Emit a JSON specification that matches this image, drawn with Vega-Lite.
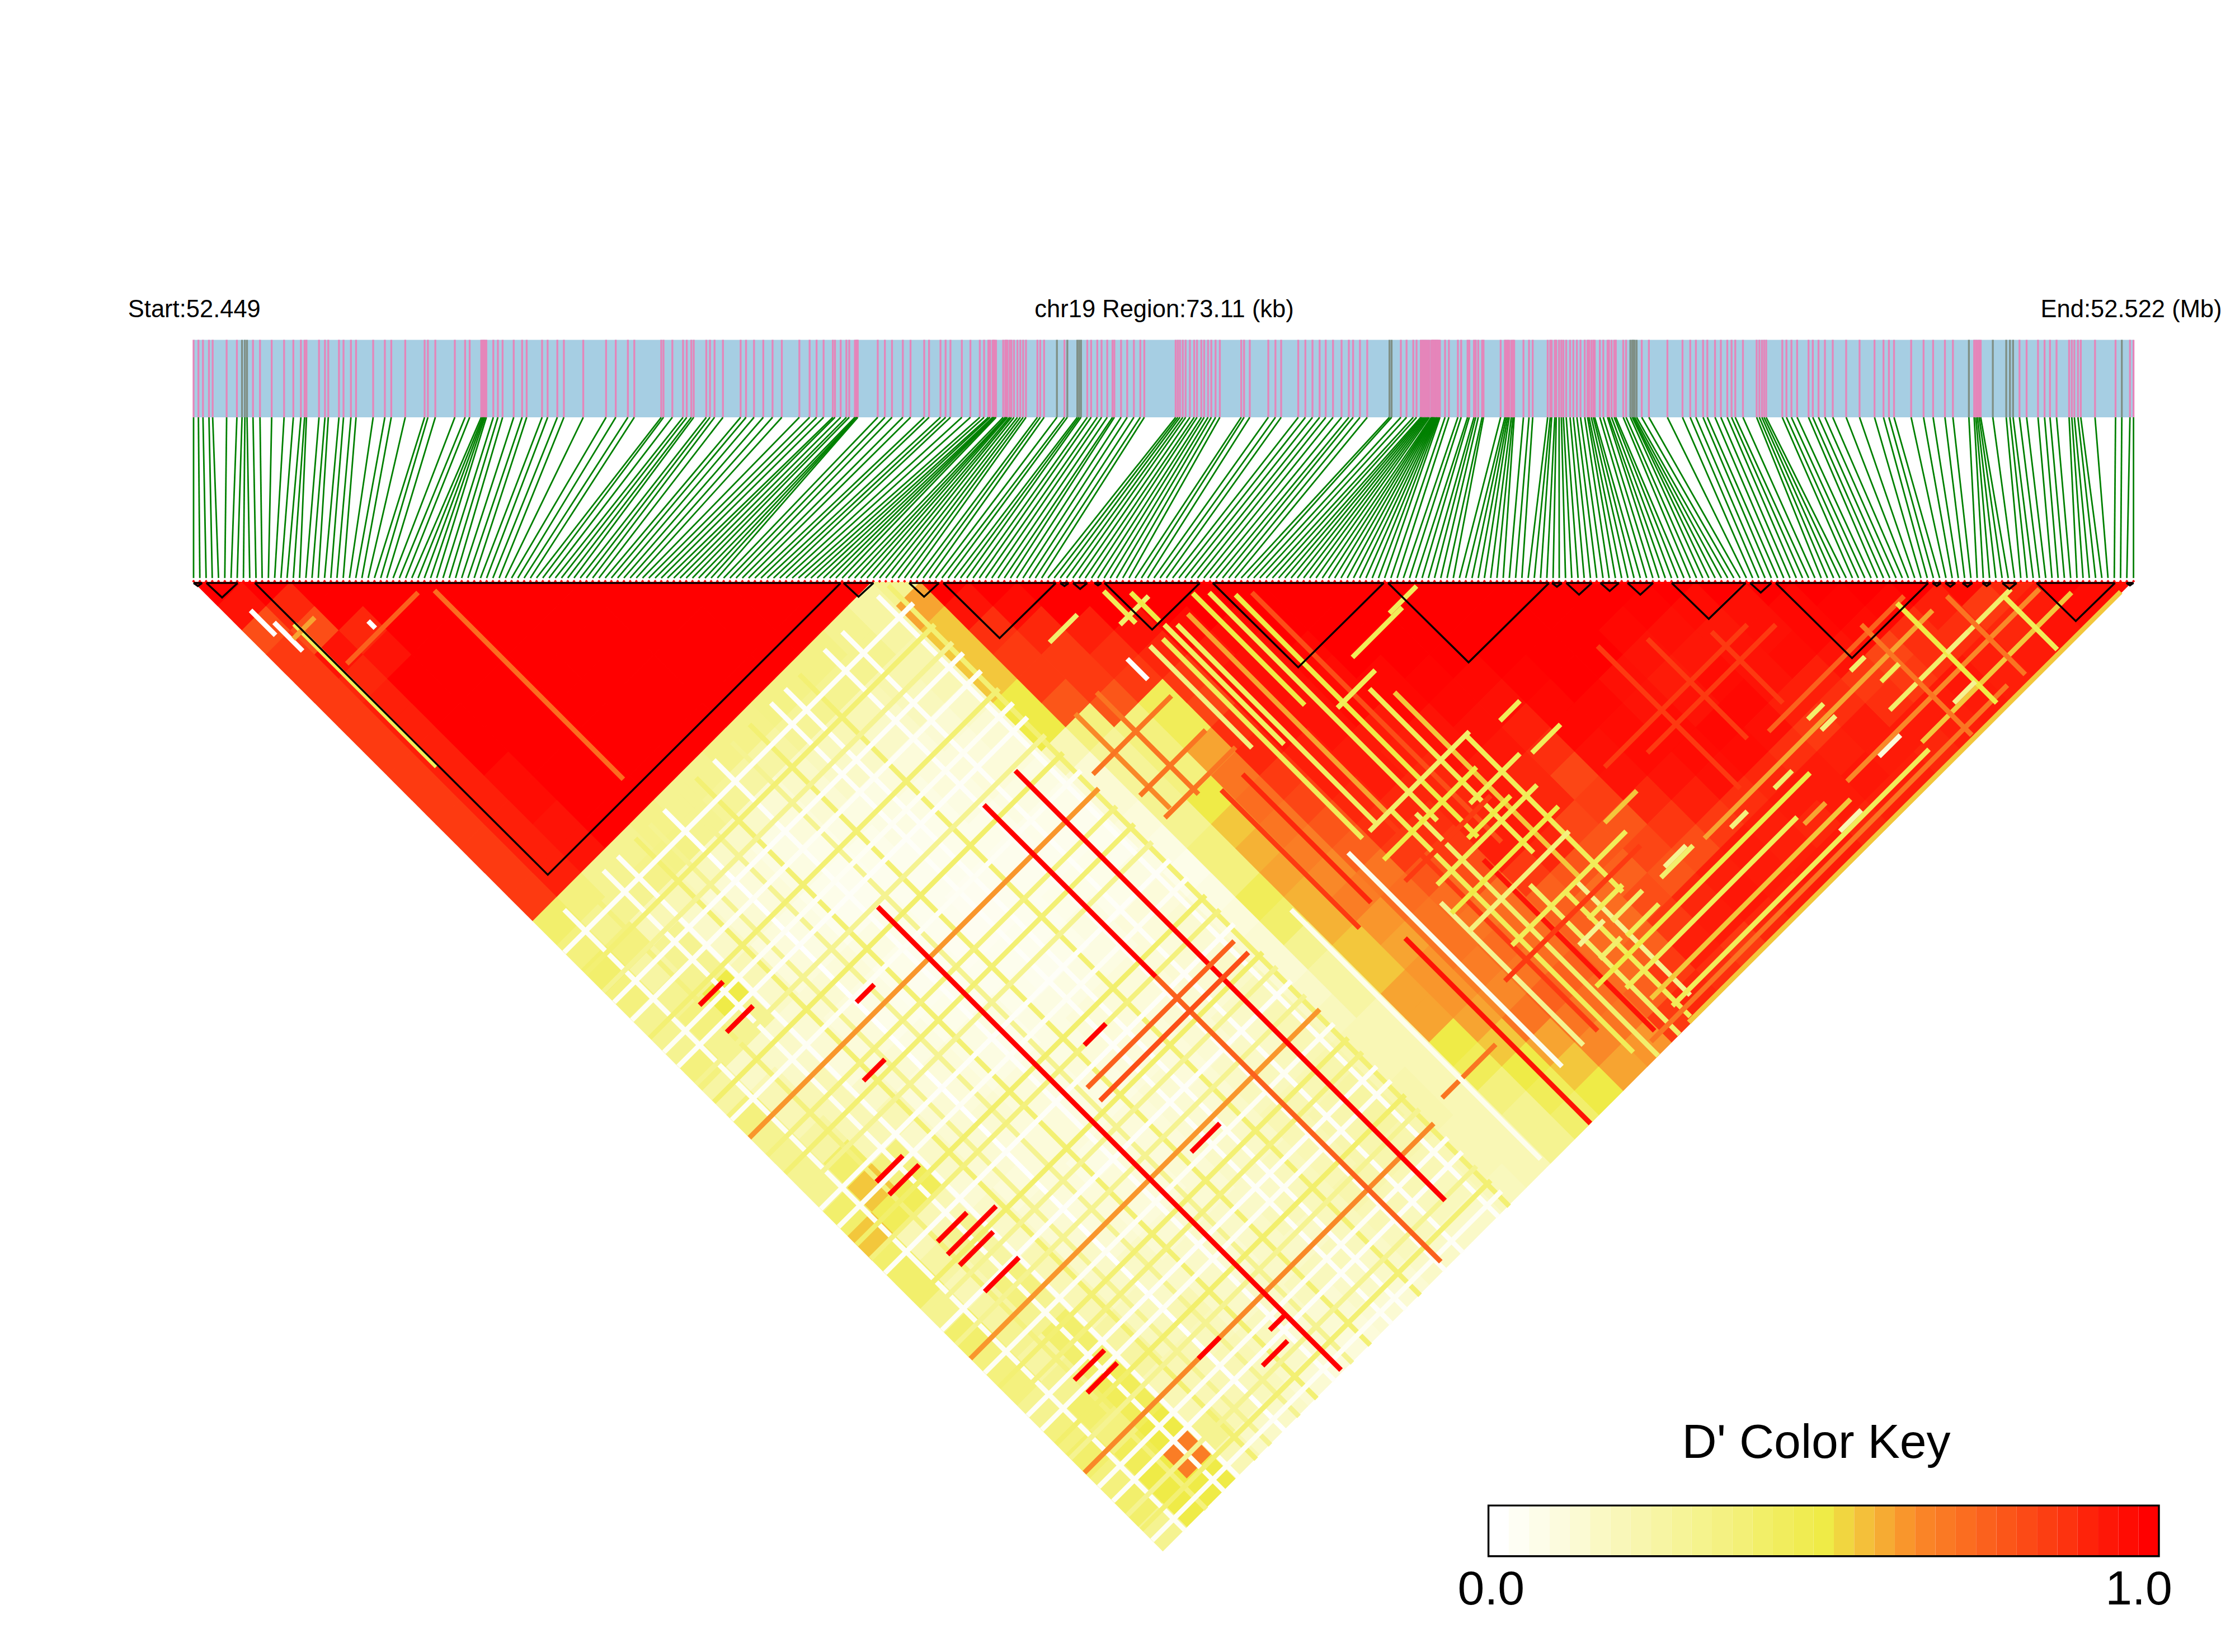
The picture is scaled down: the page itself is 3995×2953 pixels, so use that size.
{"$schema":"https://vega.github.io/schema/vega-lite/v6.json","width":3995,"height":2953,"padding":0,"autosize":{"type":"fit","contains":"padding"},"background":"white","config":{"view":{"stroke":null}},
"datasets":{"snp":[
{"t":0,"b":0},{"t":3.4,"b":4.4},{"t":6.6,"b":8.8},{"t":10.8,"b":13.1},{"t":13.4,"b":17.5},{"t":23.2,"b":21.9},{"t":30.4,"b":26.3},{"t":34,"b":30.6,"g":1},
{"t":36,"b":35,"g":1},{"t":37.5,"b":39.4,"g":1},{"t":41.7,"b":43.8},{"t":46.6,"b":48.1},{"t":54.8,"b":52.5},{"t":63.5,"b":56.9},{"t":70,"b":61.3},{"t":75.3,"b":65.6},
{"t":77.9,"b":70},{"t":79.2,"b":74.4},{"t":88,"b":78.8},{"t":92.2,"b":83.1},{"t":94.5,"b":87.5},{"t":102,"b":91.9},{"t":105.2,"b":96.3},{"t":110.4,"b":100.6},
{"t":114,"b":105},{"t":126,"b":109.4},{"t":134.2,"b":113.8},{"t":138.7,"b":118.1},{"t":148.5,"b":122.5},{"t":162.1,"b":126.9},{"t":164.4,"b":131.3},{"t":169.6,"b":135.6},
{"t":183.3,"b":140},{"t":190.5,"b":144.4},{"t":193.7,"b":148.8},{"t":201.8,"b":153.1},{"t":202.8,"b":157.5},{"t":203.6,"b":161.9},{"t":204.4,"b":166.3},{"t":205.4,"b":170.6},
{"t":210.3,"b":175},{"t":213.5,"b":179.4},{"t":216.8,"b":183.8},{"t":224.6,"b":188.1},{"t":230.5,"b":192.5},{"t":233.7,"b":196.9},{"t":244.5,"b":201.3},{"t":248.4,"b":205.6},
{"t":255.2,"b":210},{"t":259.8,"b":214.4},{"t":273.4,"b":218.8},{"t":289.4,"b":223.1},{"t":296.2,"b":227.5},{"t":304.7,"b":231.9},{"t":309.2,"b":236.3},{"t":328.1,"b":240.6},
{"t":329.7,"b":245},{"t":335.9,"b":249.4},{"t":343.4,"b":253.8},{"t":346,"b":258.1},{"t":349.2,"b":262.5},{"t":350.9,"b":266.9},{"t":359.7,"b":271.3},{"t":362.3,"b":275.6},
{"t":365.5,"b":280},{"t":371.4,"b":284.4},{"t":383.8,"b":288.8},{"t":387.6,"b":293.1},{"t":393.2,"b":297.5},{"t":399.7,"b":301.9},{"t":406.2,"b":306.3},{"t":412.7,"b":310.6},
{"t":425,"b":315},{"t":432.2,"b":319.4},{"t":437.1,"b":323.8},{"t":442,"b":328.1},{"t":448.5,"b":332.5},{"t":450,"b":336.9},{"t":454,"b":341.3},{"t":458,"b":345.6},
{"t":460,"b":350},{"t":464,"b":354.4},{"t":465,"b":358.8},{"t":465.5,"b":363.1},{"t":466,"b":367.5},{"t":480,"b":371.9},{"t":485,"b":376.3},{"t":490,"b":380.6},
{"t":497.6,"b":385},{"t":503,"b":389.4},{"t":512.6,"b":393.8},{"t":516,"b":398.1},{"t":524,"b":402.5},{"t":527.6,"b":406.9},{"t":531,"b":411.3},{"t":539,"b":415.6},
{"t":545,"b":420},{"t":551.6,"b":424.4},{"t":554.6,"b":428.8},{"t":557.6,"b":433.1},{"t":558.8,"b":437.5},{"t":560.6,"b":441.9},{"t":561.3,"b":446.3},{"t":562,"b":450.6},
{"t":563,"b":455},{"t":568,"b":459.4},{"t":569.5,"b":463.8},{"t":570.2,"b":468.1},{"t":571,"b":472.5},{"t":572.6,"b":476.9},{"t":573.8,"b":481.3},{"t":575.6,"b":485.6},
{"t":578,"b":490},{"t":580,"b":494.4},{"t":582,"b":498.8},{"t":584,"b":503.1},{"t":592,"b":507.5},{"t":594,"b":511.9},{"t":596.7,"b":516.3},{"t":605.7,"b":520.6,"g":1},
{"t":611,"b":525},{"t":613,"b":529.4,"g":1},{"t":620,"b":533.8,"g":1},{"t":621.3,"b":538.1,"g":1},{"t":622.6,"b":542.5,"g":1},{"t":627,"b":546.9},{"t":629.7,"b":551.3},{"t":634,"b":555.6},
{"t":637,"b":560},{"t":641,"b":564.4},{"t":644.7,"b":568.8},{"t":646,"b":573.1},{"t":650.7,"b":577.5},{"t":655,"b":581.9},{"t":659.7,"b":586.3},{"t":664.2,"b":590.6},
{"t":667,"b":595},{"t":689,"b":599.4},{"t":690.5,"b":603.8},{"t":692,"b":608.1},{"t":694,"b":612.5},{"t":696,"b":616.9},{"t":699,"b":621.3},{"t":702,"b":625.6},
{"t":704,"b":630},{"t":707,"b":634.4},{"t":709,"b":638.8},{"t":711.7,"b":643.1},{"t":714,"b":647.5},{"t":717,"b":651.9},{"t":720,"b":656.3},{"t":735,"b":660.6},
{"t":737,"b":665},{"t":741,"b":669.4},{"t":754,"b":673.8},{"t":759,"b":678.1},{"t":763,"b":682.5},{"t":775,"b":686.9},{"t":780,"b":691.3},{"t":785,"b":695.6},
{"t":790,"b":700},{"t":794.3,"b":704.4},{"t":799.4,"b":708.8},{"t":805.4,"b":713.1},{"t":810.5,"b":717.5},{"t":813.5,"b":721.9},{"t":818.3,"b":726.3},{"t":823.4,"b":730.6},
{"t":839,"b":735,"g":1},{"t":840.5,"b":739.4,"g":1},{"t":847,"b":743.8},{"t":851,"b":748.1},{"t":855.7,"b":752.5},{"t":858,"b":756.9},{"t":861,"b":761.3},{"t":862,"b":765.6},
{"t":863,"b":770},{"t":864,"b":774.4},{"t":865,"b":778.8},{"t":866,"b":783.1},{"t":867,"b":787.5},{"t":868.4,"b":791.9},{"t":869,"b":796.3},{"t":869.5,"b":800.6},
{"t":870,"b":805},{"t":870.6,"b":809.4},{"t":871.2,"b":813.8},{"t":871.8,"b":818.1},{"t":872.3,"b":822.5},{"t":872.9,"b":826.9},{"t":873.6,"b":831.3},{"t":874.4,"b":835.6},
{"t":878,"b":840},{"t":880.7,"b":844.4},{"t":887,"b":848.8},{"t":889.3,"b":853.1},{"t":893.8,"b":857.5},{"t":895,"b":861.9},{"t":898.3,"b":866.3},{"t":899.5,"b":870.6},
{"t":901.3,"b":875},{"t":904,"b":879.4},{"t":905,"b":883.8},{"t":917,"b":888.1},{"t":920,"b":892.5},{"t":921,"b":896.9},{"t":922,"b":901.3},{"t":923,"b":905.6},
{"t":924.5,"b":910},{"t":925.6,"b":914.4},{"t":926.5,"b":918.8},{"t":933,"b":923.1},{"t":936.9,"b":927.5},{"t":939.5,"b":931.9},{"t":950,"b":936.3},{"t":951.8,"b":940.6},
{"t":952.8,"b":945},{"t":955,"b":949.4},{"t":956,"b":953.8},{"t":958,"b":958.1},{"t":959.6,"b":962.5},{"t":961,"b":966.9},{"t":963,"b":971.3},{"t":965.7,"b":975.6},
{"t":968,"b":980},{"t":970.5,"b":984.4},{"t":973,"b":988.8},{"t":976,"b":993.1},{"t":978,"b":997.5},{"t":979,"b":1001.9},{"t":980.6,"b":1006.3},{"t":982,"b":1010.6},
{"t":983,"b":1015},{"t":986.6,"b":1019.4},{"t":989,"b":1023.8},{"t":992,"b":1028.1},{"t":993,"b":1032.5},{"t":994.8,"b":1036.9},{"t":996.7,"b":1041.3},{"t":997.8,"b":1045.6},
{"t":1003,"b":1050},{"t":1005,"b":1054.4},{"t":1008,"b":1058.8,"g":1},{"t":1009.4,"b":1063.1,"g":1},{"t":1010,"b":1067.5,"g":1},{"t":1011,"b":1071.9,"g":1},{"t":1012.4,"b":1076.3,"g":1},{"t":1016,"b":1080.6},
{"t":1021,"b":1085},{"t":1034,"b":1089.4},{"t":1044.6,"b":1093.8},{"t":1050,"b":1098.1},{"t":1054,"b":1102.5},{"t":1059,"b":1106.9},{"t":1062,"b":1111.3},{"t":1067.4,"b":1115.6},
{"t":1071.5,"b":1120},{"t":1076,"b":1124.4},{"t":1079,"b":1128.8},{"t":1081.6,"b":1133.1},{"t":1087,"b":1137.5},{"t":1096.6,"b":1141.9},{"t":1098.5,"b":1146.3},{"t":1100.3,"b":1150.6},
{"t":1101.8,"b":1155},{"t":1103.3,"b":1159.4},{"t":1114.6,"b":1163.8},{"t":1117.5,"b":1168.1},{"t":1121,"b":1172.5},{"t":1125,"b":1176.9},{"t":1133,"b":1181.3},{"t":1136,"b":1185.6},
{"t":1140,"b":1190},{"t":1144.5,"b":1194.4},{"t":1150,"b":1198.8},{"t":1159.4,"b":1203.1},{"t":1168.8,"b":1207.5},{"t":1179.3,"b":1211.9},{"t":1185.6,"b":1216.3},{"t":1189.4,"b":1220.6},
{"t":1193,"b":1225},{"t":1205,"b":1229.4},{"t":1213.7,"b":1233.8},{"t":1220.4,"b":1238.1},{"t":1228.7,"b":1242.5},{"t":1234.3,"b":1246.9},{"t":1245.5,"b":1251.3,"g":1},{"t":1249.2,"b":1255.6},
{"t":1250.4,"b":1260},{"t":1251.5,"b":1264.4},{"t":1252.7,"b":1268.8},{"t":1253.8,"b":1273.1},{"t":1262.3,"b":1277.5,"g":1},{"t":1271.7,"b":1281.9,"g":1},{"t":1274.3,"b":1286.3,"g":1},{"t":1276.5,"b":1290.6,"g":1},
{"t":1281,"b":1295},{"t":1286,"b":1299.4},{"t":1294,"b":1303.8},{"t":1298.6,"b":1308.1},{"t":1302.4,"b":1312.5},{"t":1307,"b":1316.9},{"t":1315.8,"b":1321.3},{"t":1317.7,"b":1325.6},
{"t":1319.5,"b":1330},{"t":1322,"b":1334.4},{"t":1324,"b":1338.8},{"t":1334,"b":1343.1},{"t":1348.4,"b":1347.5},{"t":1352.8,"b":1351.9,"g":1},{"t":1358.5,"b":1356.3},{"t":1361,"b":1361}
],
"blocks":[{"a":0,"b":6},{"a":9,"b":31},{"a":43,"b":454},{"a":456,"b":477},{"a":502,"b":523},{"a":526,"b":605},{"a":608,"b":614},{"a":617,"b":627},{"a":632,"b":637},{"a":639,"b":706},{"a":715,"b":835},{"a":838,"b":951},{"a":953,"b":960},{"a":963,"b":981},{"a":987,"b":1000},{"a":1006,"b":1024},{"a":1037,"b":1089},{"a":1092,"b":1107},{"a":1110,"b":1217},{"a":1220,"b":1226},{"a":1229,"b":1236},{"a":1241,"b":1248},{"a":1255,"b":1261},{"a":1269,"b":1279},{"a":1293,"b":1348},{"a":1356,"b":1361}]},
"layer":[
{"data":{"values":[
{"x":1,"y":0,"v":1},{"x":2,"y":1,"v":0.95},{"x":3,"y":2,"v":0.8},{"x":4,"y":3,"v":0.85},{"x":5,"y":4,"v":0.85},{"x":6,"y":5,"v":0.85},{"x":7,"y":6,"v":0.85},{"x":8,"y":7,"v":0.85},{"x":9,"y":8,"v":0.85},{"x":10,"y":9,"v":0.85},{"x":11,"y":10,"v":0.85},{"x":12,"y":11,"v":0.85},{"x":13,"y":12,"v":0.85},{"x":14,"y":13,"v":0.85},{"x":15,"y":14,"v":0.4},{"x":16,"y":15,"v":0.35},{"x":17,"y":16,"v":0.4},{"x":18,"y":17,"v":0.35},{"x":19,"y":18,"v":0.3},{"x":20,"y":19,"v":0.3},{"x":21,"y":20,"v":0.35},{"x":22,"y":21,"v":0.25},{"x":23,"y":22,"v":0.35},{"x":24,"y":23,"v":0.3},{"x":25,"y":24,"v":0.3},{"x":26,"y":25,"v":0.3},{"x":27,"y":26,"v":0.4},{"x":28,"y":27,"v":0.55},{"x":29,"y":28,"v":0.4},{"x":30,"y":29,"v":0.4},{"x":31,"y":30,"v":0.3},{"x":32,"y":31,"v":0.4},{"x":33,"y":32,"v":0.35},{"x":34,"y":33,"v":0.35},{"x":35,"y":34,"v":0.3},{"x":36,"y":35,"v":0.35},{"x":37,"y":36,"v":0.4},{"x":38,"y":37,"v":0.35},{"x":39,"y":38,"v":0.4},{"x":40,"y":39,"v":0.3},
{"x":3,"y":0,"v":1},{"x":4,"y":1,"v":0.9},{"x":5,"y":2,"v":0.8},{"x":6,"y":3,"v":0.95},{"x":7,"y":4,"v":0.9},{"x":8,"y":5,"v":0.92},{"x":9,"y":6,"v":0.92},{"x":10,"y":7,"v":0.92},{"x":11,"y":8,"v":0.92},{"x":12,"y":9,"v":0.92},{"x":13,"y":10,"v":0.92},{"x":14,"y":11,"v":0.92},{"x":15,"y":12,"v":0.92},{"x":16,"y":13,"v":0.35},{"x":17,"y":14,"v":0.3},{"x":18,"y":15,"v":0.35},{"x":19,"y":16,"v":0.25},{"x":20,"y":17,"v":0.3},{"x":21,"y":18,"v":0.35},{"x":22,"y":19,"v":0.3},{"x":23,"y":20,"v":0.15},{"x":24,"y":21,"v":0.2},{"x":25,"y":22,"v":0.2},{"x":26,"y":23,"v":0.25},{"x":27,"y":24,"v":0.4},{"x":28,"y":25,"v":0.55},{"x":29,"y":26,"v":0.45},{"x":30,"y":27,"v":0.2},{"x":31,"y":28,"v":0.25},{"x":32,"y":29,"v":0.2},{"x":33,"y":30,"v":0.25},{"x":34,"y":31,"v":0.3},{"x":35,"y":32,"v":0.25},{"x":36,"y":33,"v":0.3},{"x":37,"y":34,"v":0.4},{"x":38,"y":35,"v":0.35},{"x":39,"y":36,"v":0.45},{"x":40,"y":37,"v":0.5},{"x":41,"y":38,"v":0.5},
{"x":5,"y":0,"v":1},{"x":6,"y":1,"v":1},{"x":7,"y":2,"v":0.9},{"x":8,"y":3,"v":0.95},{"x":9,"y":4,"v":1},{"x":10,"y":5,"v":1},{"x":11,"y":6,"v":1},{"x":12,"y":7,"v":1},{"x":13,"y":8,"v":0.97},{"x":14,"y":9,"v":0.97},{"x":15,"y":10,"v":0.95},{"x":16,"y":11,"v":0.95},{"x":17,"y":12,"v":0.3},{"x":18,"y":13,"v":0.3},{"x":19,"y":14,"v":0.2},{"x":20,"y":15,"v":0.3},{"x":21,"y":16,"v":0.3},{"x":22,"y":17,"v":0.5},{"x":23,"y":18,"v":0.3},{"x":24,"y":19,"v":0.15},{"x":25,"y":20,"v":0.15},{"x":26,"y":21,"v":0.2},{"x":27,"y":22,"v":0.2},{"x":28,"y":23,"v":0.2},{"x":29,"y":24,"v":0.35},{"x":30,"y":25,"v":0.45},{"x":31,"y":26,"v":0.2},{"x":32,"y":27,"v":0.3},{"x":33,"y":28,"v":0.25},{"x":34,"y":29,"v":0.35},{"x":35,"y":30,"v":0.3},{"x":36,"y":31,"v":0.4},{"x":37,"y":32,"v":0.4},{"x":38,"y":33,"v":0.45},{"x":39,"y":34,"v":0.45},{"x":40,"y":35,"v":0.5},{"x":41,"y":36,"v":0.68},{"x":42,"y":37,"v":0.5},
{"x":7,"y":0,"v":1},{"x":8,"y":1,"v":1},{"x":9,"y":2,"v":1},{"x":10,"y":3,"v":1},{"x":11,"y":4,"v":1},{"x":12,"y":5,"v":1},{"x":13,"y":6,"v":1},{"x":14,"y":7,"v":1},{"x":15,"y":8,"v":1},{"x":16,"y":9,"v":1},{"x":17,"y":10,"v":1},{"x":18,"y":11,"v":0.3},{"x":19,"y":12,"v":0.32},{"x":20,"y":13,"v":0.2},{"x":21,"y":14,"v":0.15},{"x":22,"y":15,"v":0.15},{"x":23,"y":16,"v":0.2},{"x":24,"y":17,"v":0.15},{"x":25,"y":18,"v":0.12},{"x":26,"y":19,"v":0.12},{"x":27,"y":20,"v":0.1},{"x":28,"y":21,"v":0.15},{"x":29,"y":22,"v":0.2},{"x":30,"y":23,"v":0.15},{"x":31,"y":24,"v":0.15},{"x":32,"y":25,"v":0.12},{"x":33,"y":26,"v":0.15},{"x":34,"y":27,"v":0.15},{"x":35,"y":28,"v":0.2},{"x":36,"y":29,"v":0.2},{"x":37,"y":30,"v":0.2},{"x":38,"y":31,"v":0.25},{"x":39,"y":32,"v":0.25},{"x":40,"y":33,"v":0.2},{"x":41,"y":34,"v":0.2},{"x":42,"y":35,"v":0.3},{"x":43,"y":36,"v":0.2},
{"x":9,"y":0,"v":1},{"x":10,"y":1,"v":1},{"x":11,"y":2,"v":1},{"x":12,"y":3,"v":1},{"x":13,"y":4,"v":1},{"x":14,"y":5,"v":1},{"x":15,"y":6,"v":1},{"x":16,"y":7,"v":1},{"x":17,"y":8,"v":1},{"x":18,"y":9,"v":1},{"x":19,"y":10,"v":0.32},{"x":20,"y":11,"v":0.33},{"x":21,"y":12,"v":0.18},{"x":22,"y":13,"v":0.12},{"x":23,"y":14,"v":0.12},{"x":24,"y":15,"v":0.1},{"x":25,"y":16,"v":0.1},{"x":26,"y":17,"v":0.12},{"x":27,"y":18,"v":0.1},{"x":28,"y":19,"v":0.1},{"x":29,"y":20,"v":0.12},{"x":30,"y":21,"v":0.1},{"x":31,"y":22,"v":0.12},{"x":32,"y":23,"v":0.12},{"x":33,"y":24,"v":0.12},{"x":34,"y":25,"v":0.1},{"x":35,"y":26,"v":0.12},{"x":36,"y":27,"v":0.12},{"x":37,"y":28,"v":0.15},{"x":38,"y":29,"v":0.15},{"x":39,"y":30,"v":0.18},{"x":40,"y":31,"v":0.18},{"x":41,"y":32,"v":0.2},{"x":42,"y":33,"v":0.2},{"x":43,"y":34,"v":0.2},{"x":44,"y":35,"v":0.15},
{"x":11,"y":0,"v":1},{"x":12,"y":1,"v":1},{"x":13,"y":2,"v":1},{"x":14,"y":3,"v":1},{"x":15,"y":4,"v":1},{"x":16,"y":5,"v":1},{"x":17,"y":6,"v":1},{"x":18,"y":7,"v":1},{"x":19,"y":8,"v":1},{"x":20,"y":9,"v":0.3},{"x":21,"y":10,"v":0.3},{"x":22,"y":11,"v":0.15},{"x":23,"y":12,"v":0.1},{"x":24,"y":13,"v":0.1},{"x":25,"y":14,"v":0.08},{"x":26,"y":15,"v":0.08},{"x":27,"y":16,"v":0.1},{"x":28,"y":17,"v":0.08},{"x":29,"y":18,"v":0.06},{"x":30,"y":19,"v":0.08},{"x":31,"y":20,"v":0.1},{"x":32,"y":21,"v":0.1},{"x":33,"y":22,"v":0.12},{"x":34,"y":23,"v":0.1},{"x":35,"y":24,"v":0.1},{"x":36,"y":25,"v":0.1},{"x":37,"y":26,"v":0.1},{"x":38,"y":27,"v":0.12},{"x":39,"y":28,"v":0.15},{"x":40,"y":29,"v":0.15},{"x":41,"y":30,"v":0.2},{"x":42,"y":31,"v":0.18},{"x":43,"y":32,"v":0.2},{"x":44,"y":33,"v":0.18},{"x":45,"y":34,"v":0.15},
{"x":13,"y":0,"v":1},{"x":14,"y":1,"v":1},{"x":15,"y":2,"v":1},{"x":16,"y":3,"v":1},{"x":17,"y":4,"v":1},{"x":18,"y":5,"v":1},{"x":19,"y":6,"v":1},{"x":20,"y":7,"v":1},{"x":21,"y":8,"v":0.3},{"x":22,"y":9,"v":0.28},{"x":23,"y":10,"v":0.15},{"x":24,"y":11,"v":0.08},{"x":25,"y":12,"v":0.08},{"x":26,"y":13,"v":0.06},{"x":27,"y":14,"v":0.05},{"x":28,"y":15,"v":0.08},{"x":29,"y":16,"v":0.06},{"x":30,"y":17,"v":0.05},{"x":31,"y":18,"v":0.06},{"x":32,"y":19,"v":0.08},{"x":33,"y":20,"v":0.08},{"x":34,"y":21,"v":0.1},{"x":35,"y":22,"v":0.1},{"x":36,"y":23,"v":0.1},{"x":37,"y":24,"v":0.08},{"x":38,"y":25,"v":0.1},{"x":39,"y":26,"v":0.1},{"x":40,"y":27,"v":0.12},{"x":41,"y":28,"v":0.15},{"x":42,"y":29,"v":0.15},{"x":43,"y":30,"v":0.15},{"x":44,"y":31,"v":0.18},{"x":45,"y":32,"v":0.15},{"x":46,"y":33,"v":0.12},
{"x":15,"y":0,"v":1},{"x":16,"y":1,"v":1},{"x":17,"y":2,"v":1},{"x":18,"y":3,"v":1},{"x":19,"y":4,"v":1},{"x":20,"y":5,"v":1},{"x":21,"y":6,"v":1},{"x":22,"y":7,"v":0.32},{"x":23,"y":8,"v":0.25},{"x":24,"y":9,"v":0.12},{"x":25,"y":10,"v":0.1},{"x":26,"y":11,"v":0.06},{"x":27,"y":12,"v":0.05},{"x":28,"y":13,"v":0.05},{"x":29,"y":14,"v":0.06},{"x":30,"y":15,"v":0.05},{"x":31,"y":16,"v":0.05},{"x":32,"y":17,"v":0.05},{"x":33,"y":18,"v":0.08},{"x":34,"y":19,"v":0.06},{"x":35,"y":20,"v":0.08},{"x":36,"y":21,"v":0.08},{"x":37,"y":22,"v":0.08},{"x":38,"y":23,"v":0.1},{"x":39,"y":24,"v":0.1},{"x":40,"y":25,"v":0.1},{"x":41,"y":26,"v":0.12},{"x":42,"y":27,"v":0.15},{"x":43,"y":28,"v":0.12},{"x":44,"y":29,"v":0.15},{"x":45,"y":30,"v":0.15},{"x":46,"y":31,"v":0.12},{"x":47,"y":32,"v":0.1},
{"x":17,"y":0,"v":1},{"x":18,"y":1,"v":1},{"x":19,"y":2,"v":1},{"x":20,"y":3,"v":1},{"x":21,"y":4,"v":1},{"x":22,"y":5,"v":1},{"x":23,"y":6,"v":0.32},{"x":24,"y":7,"v":0.25},{"x":25,"y":8,"v":0.15},{"x":26,"y":9,"v":0.12},{"x":27,"y":10,"v":0.08},{"x":28,"y":11,"v":0.06},{"x":29,"y":12,"v":0.05},{"x":30,"y":13,"v":0.05},{"x":31,"y":14,"v":0.05},{"x":32,"y":15,"v":0.04},{"x":33,"y":16,"v":0.05},{"x":34,"y":17,"v":0.06},{"x":35,"y":18,"v":0.08},{"x":36,"y":19,"v":0.08},{"x":37,"y":20,"v":0.1},{"x":38,"y":21,"v":0.08},{"x":39,"y":22,"v":0.1},{"x":40,"y":23,"v":0.1},{"x":41,"y":24,"v":0.12},{"x":42,"y":25,"v":0.12},{"x":43,"y":26,"v":0.15},{"x":44,"y":27,"v":0.15},{"x":45,"y":28,"v":0.15},{"x":46,"y":29,"v":0.18},{"x":47,"y":30,"v":0.12},{"x":48,"y":31,"v":0.1},
{"x":19,"y":0,"v":1},{"x":20,"y":1,"v":1},{"x":21,"y":2,"v":1},{"x":22,"y":3,"v":1},{"x":23,"y":4,"v":1},{"x":24,"y":5,"v":0.33},{"x":25,"y":6,"v":0.28},{"x":26,"y":7,"v":0.18},{"x":27,"y":8,"v":0.15},{"x":28,"y":9,"v":0.08},{"x":29,"y":10,"v":0.08},{"x":30,"y":11,"v":0.05},{"x":31,"y":12,"v":0.05},{"x":32,"y":13,"v":0.04},{"x":33,"y":14,"v":0.04},{"x":34,"y":15,"v":0.05},{"x":35,"y":16,"v":0.05},{"x":36,"y":17,"v":0.08},{"x":37,"y":18,"v":0.1},{"x":38,"y":19,"v":0.1},{"x":39,"y":20,"v":0.1},{"x":40,"y":21,"v":0.12},{"x":41,"y":22,"v":0.12},{"x":42,"y":23,"v":0.15},{"x":43,"y":24,"v":0.15},{"x":44,"y":25,"v":0.15},{"x":45,"y":26,"v":0.18},{"x":46,"y":27,"v":0.15},{"x":47,"y":28,"v":0.18},{"x":48,"y":29,"v":0.15},{"x":49,"y":30,"v":0.12},
{"x":21,"y":0,"v":1},{"x":22,"y":1,"v":1},{"x":23,"y":2,"v":1},{"x":24,"y":3,"v":1},{"x":25,"y":4,"v":0.33},{"x":26,"y":5,"v":0.3},{"x":27,"y":6,"v":0.2},{"x":28,"y":7,"v":0.15},{"x":29,"y":8,"v":0.1},{"x":30,"y":9,"v":0.08},{"x":31,"y":10,"v":0.06},{"x":32,"y":11,"v":0.06},{"x":33,"y":12,"v":0.05},{"x":34,"y":13,"v":0.05},{"x":35,"y":14,"v":0.05},{"x":36,"y":15,"v":0.06},{"x":37,"y":16,"v":0.08},{"x":38,"y":17,"v":0.1},{"x":39,"y":18,"v":0.1},{"x":40,"y":19,"v":0.1},{"x":41,"y":20,"v":0.1},{"x":42,"y":21,"v":0.12},{"x":43,"y":22,"v":0.15},{"x":44,"y":23,"v":0.15},{"x":45,"y":24,"v":0.18},{"x":46,"y":25,"v":0.18},{"x":47,"y":26,"v":0.18},{"x":48,"y":27,"v":0.18},{"x":49,"y":28,"v":0.15},{"x":50,"y":29,"v":0.12},
{"x":23,"y":0,"v":1},{"x":24,"y":1,"v":1},{"x":25,"y":2,"v":1},{"x":26,"y":3,"v":0.33},{"x":27,"y":4,"v":0.3},{"x":28,"y":5,"v":0.2},{"x":29,"y":6,"v":0.15},{"x":30,"y":7,"v":0.1},{"x":31,"y":8,"v":0.1},{"x":32,"y":9,"v":0.08},{"x":33,"y":10,"v":0.06},{"x":34,"y":11,"v":0.05},{"x":35,"y":12,"v":0.05},{"x":36,"y":13,"v":0.06},{"x":37,"y":14,"v":0.08},{"x":38,"y":15,"v":0.08},{"x":39,"y":16,"v":0.1},{"x":40,"y":17,"v":0.1},{"x":41,"y":18,"v":0.12},{"x":42,"y":19,"v":0.12},{"x":43,"y":20,"v":0.15},{"x":44,"y":21,"v":0.18},{"x":45,"y":22,"v":0.2},{"x":46,"y":23,"v":0.2},{"x":47,"y":24,"v":0.2},{"x":48,"y":25,"v":0.22},{"x":49,"y":26,"v":0.2},{"x":50,"y":27,"v":0.18},{"x":51,"y":28,"v":0.15},
{"x":25,"y":0,"v":1},{"x":26,"y":1,"v":1},{"x":27,"y":2,"v":0.3},{"x":28,"y":3,"v":0.3},{"x":29,"y":4,"v":0.22},{"x":30,"y":5,"v":0.18},{"x":31,"y":6,"v":0.12},{"x":32,"y":7,"v":0.1},{"x":33,"y":8,"v":0.1},{"x":34,"y":9,"v":0.08},{"x":35,"y":10,"v":0.06},{"x":36,"y":11,"v":0.05},{"x":37,"y":12,"v":0.06},{"x":38,"y":13,"v":0.06},{"x":39,"y":14,"v":0.1},{"x":40,"y":15,"v":0.1},{"x":41,"y":16,"v":0.12},{"x":42,"y":17,"v":0.12},{"x":43,"y":18,"v":0.15},{"x":44,"y":19,"v":0.15},{"x":45,"y":20,"v":0.18},{"x":46,"y":21,"v":0.2},{"x":47,"y":22,"v":0.22},{"x":48,"y":23,"v":0.22},{"x":49,"y":24,"v":0.22},{"x":50,"y":25,"v":0.2},{"x":51,"y":26,"v":0.18},{"x":52,"y":27,"v":0.15},
{"x":27,"y":0,"v":1},{"x":28,"y":1,"v":0.25},{"x":29,"y":2,"v":0.25},{"x":30,"y":3,"v":0.22},{"x":31,"y":4,"v":0.2},{"x":32,"y":5,"v":0.15},{"x":33,"y":6,"v":0.12},{"x":34,"y":7,"v":0.1},{"x":35,"y":8,"v":0.08},{"x":36,"y":9,"v":0.06},{"x":37,"y":10,"v":0.05},{"x":38,"y":11,"v":0.05},{"x":39,"y":12,"v":0.08},{"x":40,"y":13,"v":0.1},{"x":41,"y":14,"v":0.12},{"x":42,"y":15,"v":0.12},{"x":43,"y":16,"v":0.15},{"x":44,"y":17,"v":0.18},{"x":45,"y":18,"v":0.2},{"x":46,"y":19,"v":0.2},{"x":47,"y":20,"v":0.22},{"x":48,"y":21,"v":0.25},{"x":49,"y":22,"v":0.25},{"x":50,"y":23,"v":0.22},{"x":51,"y":24,"v":0.2},{"x":52,"y":25,"v":0.18},{"x":53,"y":26,"v":0.15},
{"x":29,"y":0,"v":0.3},{"x":30,"y":1,"v":0.6},{"x":31,"y":2,"v":0.55},{"x":32,"y":3,"v":0.55},{"x":33,"y":4,"v":0.55},{"x":34,"y":5,"v":0.5},{"x":35,"y":6,"v":0.5},{"x":36,"y":7,"v":0.2},{"x":37,"y":8,"v":0.12},{"x":38,"y":9,"v":0.12},{"x":39,"y":10,"v":0.1},{"x":40,"y":11,"v":0.08},{"x":41,"y":12,"v":0.06},{"x":42,"y":13,"v":0.08},{"x":43,"y":14,"v":0.1},{"x":44,"y":15,"v":0.12},{"x":45,"y":16,"v":0.12},{"x":46,"y":17,"v":0.15},{"x":47,"y":18,"v":0.18},{"x":48,"y":19,"v":0.2},{"x":49,"y":20,"v":0.2},{"x":50,"y":21,"v":0.22},{"x":51,"y":22,"v":0.22},{"x":52,"y":23,"v":0.2},{"x":53,"y":24,"v":0.2},{"x":54,"y":25,"v":0.18},
{"x":31,"y":0,"v":1},{"x":32,"y":1,"v":0.95},{"x":33,"y":2,"v":0.88},{"x":34,"y":3,"v":0.85},{"x":35,"y":4,"v":0.85},{"x":36,"y":5,"v":0.78},{"x":37,"y":6,"v":0.35},{"x":38,"y":7,"v":0.28},{"x":39,"y":8,"v":0.28},{"x":40,"y":9,"v":0.3},{"x":41,"y":10,"v":0.3},{"x":42,"y":11,"v":0.35},{"x":43,"y":12,"v":0.35},{"x":44,"y":13,"v":0.45},{"x":45,"y":14,"v":0.4},{"x":46,"y":15,"v":0.3},{"x":47,"y":16,"v":0.25},{"x":48,"y":17,"v":0.25},{"x":49,"y":18,"v":0.2},{"x":50,"y":19,"v":0.2},{"x":51,"y":20,"v":0.2},{"x":52,"y":21,"v":0.2},{"x":53,"y":22,"v":0.2},{"x":54,"y":23,"v":0.2},{"x":55,"y":24,"v":0.2},
{"x":33,"y":0,"v":1},{"x":34,"y":1,"v":0.97},{"x":35,"y":2,"v":0.9},{"x":36,"y":3,"v":0.85},{"x":37,"y":4,"v":0.85},{"x":38,"y":5,"v":0.78},{"x":39,"y":6,"v":0.35},{"x":40,"y":7,"v":0.35},{"x":41,"y":8,"v":0.35},{"x":42,"y":9,"v":0.5},{"x":43,"y":10,"v":0.55},{"x":44,"y":11,"v":0.58},{"x":45,"y":12,"v":0.6},{"x":46,"y":13,"v":0.58},{"x":47,"y":14,"v":0.58},{"x":48,"y":15,"v":0.55},{"x":49,"y":16,"v":0.55},{"x":50,"y":17,"v":0.6},{"x":51,"y":18,"v":0.6},{"x":52,"y":19,"v":0.5},{"x":53,"y":20,"v":0.45},{"x":54,"y":21,"v":0.35},{"x":55,"y":22,"v":0.3},{"x":56,"y":23,"v":0.3},
{"x":35,"y":0,"v":1},{"x":36,"y":1,"v":1},{"x":37,"y":2,"v":0.92},{"x":38,"y":3,"v":0.88},{"x":39,"y":4,"v":0.85},{"x":40,"y":5,"v":0.45},{"x":41,"y":6,"v":0.45},{"x":42,"y":7,"v":0.6},{"x":43,"y":8,"v":0.7},{"x":44,"y":9,"v":0.72},{"x":45,"y":10,"v":0.7},{"x":46,"y":11,"v":0.68},{"x":47,"y":12,"v":0.65},{"x":48,"y":13,"v":0.68},{"x":49,"y":14,"v":0.62},{"x":50,"y":15,"v":0.6},{"x":51,"y":16,"v":0.62},{"x":52,"y":17,"v":0.62},{"x":53,"y":18,"v":0.6},{"x":54,"y":19,"v":0.55},{"x":55,"y":20,"v":0.5},{"x":56,"y":21,"v":0.45},{"x":57,"y":22,"v":0.4},
{"x":37,"y":0,"v":1},{"x":38,"y":1,"v":1},{"x":39,"y":2,"v":0.95},{"x":40,"y":3,"v":0.9},{"x":41,"y":4,"v":0.85},{"x":42,"y":5,"v":0.82},{"x":43,"y":6,"v":0.88},{"x":44,"y":7,"v":0.9},{"x":45,"y":8,"v":0.85},{"x":46,"y":9,"v":0.82},{"x":47,"y":10,"v":0.78},{"x":48,"y":11,"v":0.75},{"x":49,"y":12,"v":0.7},{"x":50,"y":13,"v":0.72},{"x":51,"y":14,"v":0.7},{"x":52,"y":15,"v":0.7},{"x":53,"y":16,"v":0.68},{"x":54,"y":17,"v":0.65},{"x":55,"y":18,"v":0.7},{"x":56,"y":19,"v":0.6},{"x":57,"y":20,"v":0.55},{"x":58,"y":21,"v":0.5},
{"x":39,"y":0,"v":1},{"x":40,"y":1,"v":1},{"x":41,"y":2,"v":0.97},{"x":42,"y":3,"v":0.93},{"x":43,"y":4,"v":0.95},{"x":44,"y":5,"v":0.95},{"x":45,"y":6,"v":0.95},{"x":46,"y":7,"v":0.92},{"x":47,"y":8,"v":0.92},{"x":48,"y":9,"v":0.9},{"x":49,"y":10,"v":0.88},{"x":50,"y":11,"v":0.85},{"x":51,"y":12,"v":0.78},{"x":52,"y":13,"v":0.72},{"x":53,"y":14,"v":0.7},{"x":54,"y":15,"v":0.72},{"x":55,"y":16,"v":0.7},{"x":56,"y":17,"v":0.75},{"x":57,"y":18,"v":0.7},{"x":58,"y":19,"v":0.65},{"x":59,"y":20,"v":0.6},
{"x":41,"y":0,"v":1},{"x":42,"y":1,"v":1},{"x":43,"y":2,"v":0.97},{"x":44,"y":3,"v":0.96},{"x":45,"y":4,"v":0.96},{"x":46,"y":5,"v":0.95},{"x":47,"y":6,"v":0.95},{"x":48,"y":7,"v":0.93},{"x":49,"y":8,"v":0.93},{"x":50,"y":9,"v":0.9},{"x":51,"y":10,"v":0.88},{"x":52,"y":11,"v":0.85},{"x":53,"y":12,"v":0.8},{"x":54,"y":13,"v":0.72},{"x":55,"y":14,"v":0.72},{"x":56,"y":15,"v":0.72},{"x":57,"y":16,"v":0.75},{"x":58,"y":17,"v":0.72},{"x":59,"y":18,"v":0.7},{"x":60,"y":19,"v":0.62},
{"x":43,"y":0,"v":1},{"x":44,"y":1,"v":1},{"x":45,"y":2,"v":1},{"x":46,"y":3,"v":0.98},{"x":47,"y":4,"v":0.97},{"x":48,"y":5,"v":0.97},{"x":49,"y":6,"v":0.93},{"x":50,"y":7,"v":0.92},{"x":51,"y":8,"v":0.9},{"x":52,"y":9,"v":0.9},{"x":53,"y":10,"v":0.9},{"x":54,"y":11,"v":0.92},{"x":55,"y":12,"v":0.85},{"x":56,"y":13,"v":0.75},{"x":57,"y":14,"v":0.75},{"x":58,"y":15,"v":0.72},{"x":59,"y":16,"v":0.72},{"x":60,"y":17,"v":0.75},{"x":61,"y":18,"v":0.85},
{"x":45,"y":0,"v":1},{"x":46,"y":1,"v":1},{"x":47,"y":2,"v":1},{"x":48,"y":3,"v":1},{"x":49,"y":4,"v":0.98},{"x":50,"y":5,"v":0.98},{"x":51,"y":6,"v":0.95},{"x":52,"y":7,"v":0.95},{"x":53,"y":8,"v":0.93},{"x":54,"y":9,"v":0.93},{"x":55,"y":10,"v":0.93},{"x":56,"y":11,"v":0.9},{"x":57,"y":12,"v":0.78},{"x":58,"y":13,"v":0.72},{"x":59,"y":14,"v":0.72},{"x":60,"y":15,"v":0.75},{"x":61,"y":16,"v":0.85},{"x":62,"y":17,"v":0.9},
{"x":47,"y":0,"v":1},{"x":48,"y":1,"v":1},{"x":49,"y":2,"v":1},{"x":50,"y":3,"v":1},{"x":51,"y":4,"v":0.99},{"x":52,"y":5,"v":0.98},{"x":53,"y":6,"v":0.96},{"x":54,"y":7,"v":0.94},{"x":55,"y":8,"v":0.9},{"x":56,"y":9,"v":0.9},{"x":57,"y":10,"v":0.82},{"x":58,"y":11,"v":0.78},{"x":59,"y":12,"v":0.75},{"x":60,"y":13,"v":0.8},{"x":61,"y":14,"v":0.85},{"x":62,"y":15,"v":0.92},{"x":63,"y":16,"v":0.88},
{"x":49,"y":0,"v":1},{"x":50,"y":1,"v":1},{"x":51,"y":2,"v":1},{"x":52,"y":3,"v":1},{"x":53,"y":4,"v":0.98},{"x":54,"y":5,"v":0.96},{"x":55,"y":6,"v":0.92},{"x":56,"y":7,"v":0.88},{"x":57,"y":8,"v":0.82},{"x":58,"y":9,"v":0.84},{"x":59,"y":10,"v":0.78},{"x":60,"y":11,"v":0.82},{"x":61,"y":12,"v":0.78},{"x":62,"y":13,"v":0.9},{"x":63,"y":14,"v":0.93},{"x":64,"y":15,"v":0.85},
{"x":51,"y":0,"v":1},{"x":52,"y":1,"v":1},{"x":53,"y":2,"v":1},{"x":54,"y":3,"v":1},{"x":55,"y":4,"v":0.99},{"x":56,"y":5,"v":0.98},{"x":57,"y":6,"v":0.98},{"x":58,"y":7,"v":0.96},{"x":59,"y":8,"v":0.95},{"x":60,"y":9,"v":0.9},{"x":61,"y":10,"v":0.86},{"x":62,"y":11,"v":0.8},{"x":63,"y":12,"v":0.92},{"x":64,"y":13,"v":0.94},{"x":65,"y":14,"v":0.9},
{"x":53,"y":0,"v":1},{"x":54,"y":1,"v":1},{"x":55,"y":2,"v":1},{"x":56,"y":3,"v":1},{"x":57,"y":4,"v":1},{"x":58,"y":5,"v":0.98},{"x":59,"y":6,"v":0.97},{"x":60,"y":7,"v":0.97},{"x":61,"y":8,"v":0.95},{"x":62,"y":9,"v":0.92},{"x":63,"y":10,"v":0.85},{"x":64,"y":11,"v":0.93},{"x":65,"y":12,"v":0.93},{"x":66,"y":13,"v":0.92},
{"x":55,"y":0,"v":1},{"x":56,"y":1,"v":1},{"x":57,"y":2,"v":1},{"x":58,"y":3,"v":1},{"x":59,"y":4,"v":0.96},{"x":60,"y":5,"v":0.95},{"x":61,"y":6,"v":0.97},{"x":62,"y":7,"v":0.97},{"x":63,"y":8,"v":0.96},{"x":64,"y":9,"v":0.88},{"x":65,"y":10,"v":0.92},{"x":66,"y":11,"v":0.92},{"x":67,"y":12,"v":0.93},
{"x":57,"y":0,"v":1},{"x":58,"y":1,"v":1},{"x":59,"y":2,"v":0.98},{"x":60,"y":3,"v":0.95},{"x":61,"y":4,"v":0.93},{"x":62,"y":5,"v":0.95},{"x":63,"y":6,"v":0.98},{"x":64,"y":7,"v":0.97},{"x":65,"y":8,"v":0.9},{"x":66,"y":9,"v":0.93},{"x":67,"y":10,"v":0.9},{"x":68,"y":11,"v":0.93},
{"x":59,"y":0,"v":1},{"x":60,"y":1,"v":0.99},{"x":61,"y":2,"v":0.96},{"x":62,"y":3,"v":0.94},{"x":63,"y":4,"v":0.97},{"x":64,"y":5,"v":0.98},{"x":65,"y":6,"v":0.96},{"x":66,"y":7,"v":0.88},{"x":67,"y":8,"v":0.93},{"x":68,"y":9,"v":0.93},{"x":69,"y":10,"v":0.9},
{"x":61,"y":0,"v":1},{"x":62,"y":1,"v":0.97},{"x":63,"y":2,"v":0.94},{"x":64,"y":3,"v":0.95},{"x":65,"y":4,"v":0.95},{"x":66,"y":5,"v":0.92},{"x":67,"y":6,"v":0.85},{"x":68,"y":7,"v":0.92},{"x":69,"y":8,"v":0.94},{"x":70,"y":9,"v":0.92},
{"x":63,"y":0,"v":1},{"x":64,"y":1,"v":0.96},{"x":65,"y":2,"v":0.96},{"x":66,"y":3,"v":0.97},{"x":67,"y":4,"v":0.92},{"x":68,"y":5,"v":0.88},{"x":69,"y":6,"v":0.93},{"x":70,"y":7,"v":0.93},{"x":71,"y":8,"v":0.92},
{"x":65,"y":0,"v":1},{"x":66,"y":1,"v":0.98},{"x":67,"y":2,"v":0.98},{"x":68,"y":3,"v":0.95},{"x":69,"y":4,"v":0.85},{"x":70,"y":5,"v":0.88},{"x":71,"y":6,"v":0.93},{"x":72,"y":7,"v":0.9},
{"x":67,"y":0,"v":1},{"x":68,"y":1,"v":0.99},{"x":69,"y":2,"v":0.97},{"x":70,"y":3,"v":0.82},{"x":71,"y":4,"v":0.85},{"x":72,"y":5,"v":0.93},{"x":73,"y":6,"v":0.92},
{"x":69,"y":0,"v":1},{"x":70,"y":1,"v":0.98},{"x":71,"y":2,"v":0.88},{"x":72,"y":3,"v":0.88},{"x":73,"y":4,"v":0.94},{"x":74,"y":5,"v":0.93},
{"x":71,"y":0,"v":1},{"x":72,"y":1,"v":0.92},{"x":73,"y":2,"v":0.88},{"x":74,"y":3,"v":0.92},{"x":75,"y":4,"v":0.92},
{"x":73,"y":0,"v":0.97},{"x":74,"y":1,"v":0.85},{"x":75,"y":2,"v":0.9},{"x":76,"y":3,"v":0.93},
{"x":75,"y":0,"v":0.9},{"x":76,"y":1,"v":0.93},{"x":77,"y":2,"v":0.95},
{"x":77,"y":0,"v":1},{"x":78,"y":1,"v":0.97},
{"x":79,"y":0,"v":0.97}
]},"mark":{"type":"point","shape":"diamond","filled":true,"size":7700,"strokeWidth":0,"opacity":1},
"encoding":{"x":{"field":"x","type":"quantitative","axis":null,"scale":{"domain":[-7.988,84.247],"nice":false,"zero":false}},"y":{"field":"y","type":"quantitative","axis":null,"scale":{"domain":[-24.012,44.165],"nice":false,"zero":false,"reverse":true}},"color":{"field":"v","type":"quantitative","legend":null,"scale":{"domain":[0,0.5,0.625,1],"range":["#FFFFFF","#EFEB47","#F9922B","#FF0000"],"interpolate":"rgb"}}}},
{"data":{"values":[
{"x":260,"y":230,"x2":695.5,"y2":665.5,"v":0.03},{"x":275,"y":215,"x2":710.5,"y2":650.5,"v":0.35},{"x":287.5,"y":202.5,"x2":723,"y2":638,"v":0.03},{"x":297.5,"y":192.5,"x2":733,"y2":628,"v":0.02},{"x":310,"y":180,"x2":745.5,"y2":615.5,"v":0.38},{"x":320,"y":170,"x2":755.5,"y2":605.5,"v":0.3},{"x":330,"y":160,"x2":765.5,"y2":595.5,"v":0},{"x":340,"y":150,"x2":775.5,"y2":585.5,"v":0.3},{"x":352.5,"y":137.5,"x2":788,"y2":573,"v":0.38},{"x":365,"y":125,"x2":800.5,"y2":560.5,"v":0.02},{"x":377.5,"y":112.5,"x2":813,"y2":548,"v":0.3},{"x":390,"y":100,"x2":825.5,"y2":535.5,"v":0.38},{"x":405,"y":85,"x2":840.5,"y2":520.5,"v":0.02},{"x":415,"y":75,"x2":850.5,"y2":510.5,"v":0.02},{"x":425,"y":65,"x2":860.5,"y2":500.5,"v":0.38},{"x":442.5,"y":47.5,"x2":878,"y2":483,"v":0.02},{"x":455,"y":35,"x2":890.5,"y2":470.5,"v":0.02},{"x":480,"y":10,"x2":915.5,"y2":445.5,"v":0.02},{"x":487.5,"y":2.5,"x2":923,"y2":438,"v":0.38},
{"x":260,"y":260,"x2":505,"y2":15,"v":0.02},{"x":275,"y":275,"x2":520,"y2":30,"v":0.38},{"x":287.5,"y":287.5,"x2":532.5,"y2":42.5,"v":0.3},{"x":295,"y":295,"x2":540,"y2":50,"v":0.02},{"x":307.5,"y":307.5,"x2":552.5,"y2":62.5,"v":0.03},{"x":320,"y":320,"x2":565,"y2":75,"v":0.38},{"x":330,"y":330,"x2":575,"y2":85,"v":0.03},{"x":340,"y":340,"x2":585,"y2":95,"v":0.02},{"x":352.5,"y":352.5,"x2":597.5,"y2":107.5,"v":0.3},{"x":365,"y":365,"x2":610,"y2":120,"v":0.4},{"x":377.5,"y":377.5,"x2":622.5,"y2":132.5,"v":0.03},{"x":390,"y":390,"x2":635,"y2":145,"v":0.62},{"x":402.5,"y":402.5,"x2":647.5,"y2":157.5,"v":0.35},{"x":415,"y":415,"x2":660,"y2":170,"v":0.38},{"x":427.5,"y":427.5,"x2":672.5,"y2":182.5,"v":0.3},{"x":440,"y":440,"x2":685,"y2":195,"v":0.02},{"x":452.5,"y":452.5,"x2":697.5,"y2":207.5,"v":0.03},{"x":465,"y":465,"x2":710,"y2":220,"v":0.4},{"x":475,"y":475,"x2":720,"y2":230,"v":0.35},{"x":485,"y":485,"x2":730,"y2":240,"v":0.02},{"x":505,"y":505,"x2":750,"y2":260,"v":0.4},{"x":515,"y":515,"x2":760,"y2":270,"v":0.3},{"x":525,"y":525,"x2":770,"y2":280,"v":0.02},{"x":535,"y":535,"x2":780,"y2":290,"v":0.3},{"x":545,"y":545,"x2":790,"y2":300,"v":0.62},{"x":555,"y":555,"x2":800,"y2":310,"v":0.03},{"x":565,"y":565,"x2":810,"y2":320,"v":0.38},{"x":575,"y":575,"x2":820,"y2":330,"v":0.35},{"x":585,"y":585,"x2":830,"y2":340,"v":0.02},{"x":595,"y":595,"x2":840,"y2":350,"v":0.03},{"x":605,"y":605,"x2":850,"y2":360,"v":0.4},{"x":615,"y":615,"x2":860,"y2":370,"v":0.3},{"x":625,"y":625,"x2":870,"y2":380,"v":0.65},{"x":635,"y":635,"x2":880,"y2":390,"v":0.03},{"x":645,"y":645,"x2":890,"y2":400,"v":0.02},{"x":655,"y":655,"x2":900,"y2":410,"v":0.3},{"x":665,"y":665,"x2":910,"y2":420,"v":0.38},{"x":672.5,"y":672.5,"x2":917.5,"y2":427.5,"v":0.03},
{"x":480,"y":228,"x2":805,"y2":553,"v":1},{"x":554.5,"y":156.5,"x2":675,"y2":277,"v":1},{"x":675,"y":277,"x2":875,"y2":477,"v":0.75},{"x":576.5,"y":132.5,"x2":878,"y2":434,"v":1},{"x":633.5,"y":77.5,"x2":705,"y2":149,"v":0.7},{"x":618.5,"y":92.5,"x2":685,"y2":159,"v":0.65},{"x":721,"y":146,"x2":818,"y2":243,"v":0.85},{"x":736,"y":135,"x2":826,"y2":225,"v":0.9},
{"x":627,"y":355,"x2":730,"y2":252,"v":0.75},{"x":636,"y":364,"x2":740,"y2":260,"v":0.8},{"x":631,"y":135,"x2":686,"y2":80,"v":0.7},{"x":664,"y":150,"x2":710,"y2":104,"v":0.7},{"x":681.5,"y":165.5,"x2":731,"y2":116,"v":0.7},{"x":876,"y":362,"x2":913.5,"y2":324.5,"v":0.7},
{"x":355,"y":297,"x2":371.5,"y2":280.5,"v":1},{"x":374,"y":316,"x2":392.5,"y2":297.5,"v":1},{"x":479,"y":421,"x2":497.5,"y2":402.5,"v":1},{"x":488,"y":430,"x2":509,"y2":409,"v":1},{"x":522,"y":463,"x2":542.5,"y2":442.5,"v":1},{"x":529,"y":472,"x2":563,"y2":438,"v":1},{"x":537.5,"y":479.5,"x2":561,"y2":456,"v":1},{"x":555,"y":498,"x2":579,"y2":474,"v":1},{"x":618,"y":560,"x2":639,"y2":539,"v":1},{"x":627,"y":569,"x2":648,"y2":548,"v":1},{"x":755,"y":525,"x2":765,"y2":515,"v":1},{"x":750,"y":550,"x2":767.5,"y2":532.5,"v":1},{"x":705,"y":545,"x2":720,"y2":530,"v":1},{"x":700,"y":400,"x2":720,"y2":380,"v":1},{"x":625,"y":325,"x2":640,"y2":310,"v":1},{"x":465,"y":295,"x2":477.5,"y2":282.5,"v":1},{"x":470,"y":350,"x2":485,"y2":335,"v":1},
{"x":680,"y":40,"x2":820,"y2":180,"v":0.45},{"x":690,"y":30,"x2":830,"y2":170,"v":0.42},{"x":697.5,"y":22.5,"x2":837.5,"y2":162.5,"v":0.6},{"x":712.5,"y":7.5,"x2":872.5,"y2":167.5,"v":0.45},{"x":731,"y":9,"x2":901,"y2":179,"v":0.5},{"x":742.5,"y":7.5,"x2":917.5,"y2":182.5,"v":0.8},{"x":825,"y":75,"x2":940,"y2":190,"v":0.45},{"x":842.5,"y":77.5,"x2":972.5,"y2":207.5,"v":0.55},{"x":892.5,"y":107.5,"x2":1002.5,"y2":217.5,"v":0.45},{"x":840,"y":160,"x2":1010,"y2":330,"v":0.45},{"x":857.5,"y":162.5,"x2":1027.5,"y2":332.5,"v":0.4},{"x":835,"y":165,"x2":985,"y2":315,"v":0.85},{"x":875,"y":225,"x2":975,"y2":325,"v":0.3},{"x":905,"y":195,"x2":1025,"y2":315,"v":0.95},{"x":937.5,"y":212.5,"x2":1042.5,"y2":317.5,"v":0.4},{"x":962.5,"y":217.5,"x2":1050,"y2":305,"v":0.45},{"x":970,"y":210,"x2":1050,"y2":290,"v":0.3},{"x":850,"y":250,"x2":980,"y2":380,"v":0.95},{"x":810,"y":190,"x2":960,"y2":340,"v":0.05},{"x":770,"y":230,"x2":945,"y2":405,"v":0.05},
{"x":825,"y":175,"x2":895,"y2":105,"v":0.4},{"x":835,"y":195,"x2":900,"y2":130,"v":0.5},{"x":850,"y":210,"x2":910,"y2":150,"v":0.85},{"x":872.5,"y":212.5,"x2":942.5,"y2":142.5,"v":0.45},{"x":882.5,"y":232.5,"x2":957.5,"y2":157.5,"v":0.5},{"x":895,"y":245,"x2":965,"y2":175,"v":0.35},{"x":925,"y":255,"x2":1005,"y2":175,"v":0.45},{"x":920,"y":280,"x2":1015,"y2":185,"v":0.85},{"x":984,"y":284,"x2":1134,"y2":134,"v":0.5},{"x":1005,"y":285,"x2":1125,"y2":165,"v":0.45},{"x":1022.5,"y":292.5,"x2":1162.5,"y2":152.5,"v":0.55},{"x":1037.5,"y":297.5,"x2":1217.5,"y2":117.5,"v":0.45},{"x":1022.5,"y":322.5,"x2":1272.5,"y2":72.5,"v":0.7},{"x":1060,"y":180,"x2":1220,"y2":20,"v":0.6},{"x":1105,"y":105,"x2":1200,"y2":10,"v":0.75},{"x":1190,"y":90,"x2":1275,"y2":5,"v":0.4},{"x":1160,"y":140,"x2":1295,"y2":5,"v":0.65},{"x":1212.5,"y":112.5,"x2":1317.5,"y2":7.5,"v":0.55},
{"x":990,"y":130,"x2":1090,"y2":30,"v":0.85},{"x":1020,"y":120,"x2":1110,"y2":30,"v":0.85},{"x":985,"y":45,"x2":1085,"y2":145,"v":0.85},{"x":1020,"y":40,"x2":1090,"y2":110,"v":0.85},{"x":1065,"y":35,"x2":1115,"y2":85,"v":0.85},{"x":1170,"y":30,"x2":1247.5,"y2":107.5,"v":0.7},{"x":1195,"y":15,"x2":1265,"y2":85,"v":0.5},{"x":1230,"y":10,"x2":1285,"y2":65,"v":0.7},{"x":1270,"y":10,"x2":1307.5,"y2":47.5,"v":0.45},
{"x":802.5,"y":88.5,"x2":829,"y2":62,"v":0.45},{"x":813,"y":53,"x2":848,"y2":18,"v":0.45},{"x":839,"y":22,"x2":858,"y2":3,"v":0.45},{"x":916.5,"y":97.5,"x2":930.5,"y2":83.5,"v":0.45},{"x":939,"y":120,"x2":959,"y2":100,"v":0.45},{"x":895.5,"y":155.5,"x2":930.5,"y2":120.5,"v":0.45},{"x":894,"y":180,"x2":924,"y2":150,"v":0.5},{"x":990,"y":169,"x2":1012.5,"y2":146.5,"v":0.55},{"x":1032,"y":200,"x2":1047,"y2":185,"v":0.3},{"x":1029.5,"y":207.5,"x2":1052,"y2":185,"v":0.4},{"x":978.5,"y":236.5,"x2":1002.5,"y2":212.5,"v":0.45},{"x":995,"y":238,"x2":1016.5,"y2":216.5,"v":0.4},{"x":1005.5,"y":248.5,"x2":1028,"y2":226,"v":0.45},{"x":972,"y":255,"x2":989.5,"y2":237.5,"v":0.3},{"x":986.5,"y":264.5,"x2":1001.5,"y2":249.5,"v":0.4},{"x":1078.5,"y":172.5,"x2":1090,"y2":161,"v":0.35},{"x":1142,"y":104,"x2":1152,"y2":94,"v":0.35},{"x":1132.5,"y":96.5,"x2":1143.5,"y2":85.5,"v":0.4},{"x":1109,"y":145,"x2":1121.5,"y2":132.5,"v":0.4},{"x":1184,"y":70,"x2":1196.5,"y2":57.5,"v":0.45},{"x":1049,"y":309,"x2":1352,"y2":7,"v":0.55},{"x":1162.5,"y":62.5,"x2":1172.5,"y2":52.5,"v":0.4},{"x":1230,"y":50,"x2":1245,"y2":35,"v":0.35},{"x":1235,"y":85,"x2":1250,"y2":70,"v":0.3},{"x":1182.5,"y":122.5,"x2":1197.5,"y2":107.5,"v":0.1},{"x":1155,"y":175,"x2":1170,"y2":160,"v":0.2},{"x":1130,"y":170,"x2":1145,"y2":155,"v":0.6},
{"x":681,"y":30,"x2":765,"y2":114,"v":0.42},{"x":701,"y":8,"x2":779.5,"y2":86.5,"v":0.5},{"x":671,"y":45,"x2":742.5,"y2":116.5,"v":0.35},{"x":655,"y":54,"x2":669.5,"y2":68.5,"v":0},{"x":600.5,"y":42.5,"x2":620,"y2":23,"v":0.4},{"x":650,"y":30,"x2":670,"y2":10,"v":0.4},{"x":638.5,"y":6.5,"x2":661,"y2":29,"v":0.45},{"x":657.5,"y":7.5,"x2":677.5,"y2":27.5,"v":0.5},
{"x":169,"y":6,"x2":301.5,"y2":138.5,"v":0.72},{"x":107.5,"y":57.5,"x2":157.5,"y2":7.5,"v":0.75},{"x":70.5,"y":29.5,"x2":170.5,"y2":129.5,"v":0.45},{"x":40,"y":20,"x2":57.5,"y2":37.5,"v":0},{"x":56.5,"y":28.5,"x2":76.5,"y2":48.5,"v":0},{"x":122.5,"y":27.5,"x2":127.5,"y2":32.5,"v":0},{"x":70,"y":40,"x2":85,"y2":25,"v":0.6}
]},"mark":{"type":"rule","strokeWidth":9,"strokeCap":"butt"},
"encoding":{"x":{"field":"x","type":"quantitative","axis":null,"scale":{"domain":[-135.8,1432.2],"nice":false,"zero":false}},"y":{"field":"y","type":"quantitative","axis":null,"scale":{"domain":[-408.2,750.8],"nice":false,"zero":false,"reverse":true}},"x2":{"field":"x2"},"y2":{"field":"y2"},"color":{"field":"v","type":"quantitative","legend":null,"scale":{"domain":[0,0.5,0.625,1],"range":["#FFFFFF","#EFEB47","#F9922B","#FF0000"],"interpolate":"rgb"}}}},
{"data":{"values":[{"x0":-135.8,"x1":1432.2,"y0":-408.2,"y1":0}]},"mark":{"type":"rect","fill":"white"},"encoding":{"x":{"field":"x0","type":"quantitative","axis":null,"scale":{"domain":[-135.8,1432.2],"nice":false,"zero":false}},"x2":{"field":"x1"},"y":{"field":"y0","type":"quantitative","axis":null,"scale":{"domain":[-408.2,750.8],"nice":false,"zero":false,"reverse":true}},"y2":{"field":"y1"}}},
{"data":{"values":[{"x0":0,"x1":1361,"y0":-169.8,"y1":-115.4}]},"mark":{"type":"rect","fill":"#A6CEE3"},"encoding":{"x":{"field":"x0","type":"quantitative","axis":null,"scale":{"domain":[-135.8,1432.2],"nice":false,"zero":false}},"x2":{"field":"x1"},"y":{"field":"y0","type":"quantitative","axis":null,"scale":{"domain":[-408.2,750.8],"nice":false,"zero":false,"reverse":true}},"y2":{"field":"y1"}}},
{"data":{"name":"snp"},"mark":{"type":"rule","strokeWidth":3.3},"encoding":{"x":{"field":"t","type":"quantitative","axis":null,"scale":{"domain":[-135.8,1432.2],"nice":false,"zero":false}},"y":{"datum":-169.8,"type":"quantitative","axis":null,"scale":{"domain":[-408.2,750.8],"nice":false,"zero":false,"reverse":true}},"y2":{"datum":-115.4},"color":{"condition":{"test":"datum.g","value":"#7F8F85"},"value":"#E585BA"}}},
{"data":{"name":"snp"},"mark":{"type":"rule","strokeWidth":2.8,"color":"#008000"},"encoding":{"x":{"field":"t","type":"quantitative","axis":null,"scale":{"domain":[-135.8,1432.2],"nice":false,"zero":false}},"x2":{"field":"b"},"y":{"datum":-115.4,"type":"quantitative","axis":null,"scale":{"domain":[-408.2,750.8],"nice":false,"zero":false,"reverse":true}},"y2":{"datum":-2.7}}},
{"data":{"name":"snp"},"mark":{"type":"point","shape":"diamond","filled":true,"size":30,"strokeWidth":0,"opacity":1,"color":"#FF0000"},"encoding":{"x":{"field":"b","type":"quantitative","axis":null,"scale":{"domain":[-135.8,1432.2],"nice":false,"zero":false}},"y":{"datum":-0.4,"type":"quantitative","axis":null,"scale":{"domain":[-408.2,750.8],"nice":false,"zero":false,"reverse":true}}}},
{"data":{"values":[
{"k":1,"o":0,"x":0,"y":0.8},{"k":1,"o":1,"x":3,"y":3},{"k":1,"o":2,"x":6,"y":0.8},
{"k":2,"o":0,"x":9,"y":0.8},{"k":2,"o":1,"x":20,"y":11},{"k":2,"o":2,"x":31,"y":0.8},
{"k":3,"o":0,"x":43,"y":0.8},{"k":3,"o":1,"x":248.5,"y":205.5},{"k":3,"o":2,"x":454,"y":0.8},
{"k":4,"o":0,"x":456,"y":0.8},{"k":4,"o":1,"x":466.5,"y":10.5},{"k":4,"o":2,"x":477,"y":0.8},
{"k":5,"o":0,"x":502,"y":0.8},{"k":5,"o":1,"x":512.5,"y":10.5},{"k":5,"o":2,"x":523,"y":0.8},
{"k":6,"o":0,"x":526,"y":0.8},{"k":6,"o":1,"x":565.5,"y":39.5},{"k":6,"o":2,"x":605,"y":0.8},
{"k":7,"o":0,"x":608,"y":0.8},{"k":7,"o":1,"x":611,"y":3},{"k":7,"o":2,"x":614,"y":0.8},
{"k":8,"o":0,"x":617,"y":0.8},{"k":8,"o":1,"x":622,"y":5},{"k":8,"o":2,"x":627,"y":0.8},
{"k":9,"o":0,"x":632,"y":0.8},{"k":9,"o":1,"x":634.5,"y":2.5},{"k":9,"o":2,"x":637,"y":0.8},
{"k":10,"o":0,"x":639,"y":0.8},{"k":10,"o":1,"x":672.5,"y":33.5},{"k":10,"o":2,"x":706,"y":0.8},
{"k":11,"o":0,"x":715,"y":0.8},{"k":11,"o":1,"x":775,"y":60},{"k":11,"o":2,"x":835,"y":0.8},
{"k":12,"o":0,"x":838,"y":0.8},{"k":12,"o":1,"x":894.5,"y":56.5},{"k":12,"o":2,"x":951,"y":0.8},
{"k":13,"o":0,"x":953,"y":0.8},{"k":13,"o":1,"x":956.5,"y":3.5},{"k":13,"o":2,"x":960,"y":0.8},
{"k":14,"o":0,"x":963,"y":0.8},{"k":14,"o":1,"x":972,"y":9},{"k":14,"o":2,"x":981,"y":0.8},
{"k":15,"o":0,"x":987,"y":0.8},{"k":15,"o":1,"x":993.5,"y":6.5},{"k":15,"o":2,"x":1000,"y":0.8},
{"k":16,"o":0,"x":1006,"y":0.8},{"k":16,"o":1,"x":1015,"y":9},{"k":16,"o":2,"x":1024,"y":0.8},
{"k":17,"o":0,"x":1037,"y":0.8},{"k":17,"o":1,"x":1063,"y":26},{"k":17,"o":2,"x":1089,"y":0.8},
{"k":18,"o":0,"x":1092,"y":0.8},{"k":18,"o":1,"x":1099.5,"y":7.5},{"k":18,"o":2,"x":1107,"y":0.8},
{"k":19,"o":0,"x":1110,"y":0.8},{"k":19,"o":1,"x":1163.5,"y":53.5},{"k":19,"o":2,"x":1217,"y":0.8},
{"k":20,"o":0,"x":1220,"y":0.8},{"k":20,"o":1,"x":1223,"y":3},{"k":20,"o":2,"x":1226,"y":0.8},
{"k":21,"o":0,"x":1229,"y":0.8},{"k":21,"o":1,"x":1232.5,"y":3.5},{"k":21,"o":2,"x":1236,"y":0.8},
{"k":22,"o":0,"x":1241,"y":0.8},{"k":22,"o":1,"x":1244.5,"y":3.5},{"k":22,"o":2,"x":1248,"y":0.8},
{"k":23,"o":0,"x":1255,"y":0.8},{"k":23,"o":1,"x":1258,"y":3},{"k":23,"o":2,"x":1261,"y":0.8},
{"k":24,"o":0,"x":1269,"y":0.8},{"k":24,"o":1,"x":1274,"y":5},{"k":24,"o":2,"x":1279,"y":0.8},
{"k":25,"o":0,"x":1293,"y":0.8},{"k":25,"o":1,"x":1320.5,"y":27.5},{"k":25,"o":2,"x":1348,"y":0.8},
{"k":26,"o":0,"x":1356,"y":0.8},{"k":26,"o":1,"x":1358.5,"y":2.5},{"k":26,"o":2,"x":1361,"y":0.8}
]},"mark":{"type":"line","color":"black","strokeWidth":3.4,"strokeJoin":"miter"},"encoding":{"x":{"field":"x","type":"quantitative","axis":null,"scale":{"domain":[-135.8,1432.2],"nice":false,"zero":false}},"y":{"field":"y","type":"quantitative","axis":null,"scale":{"domain":[-408.2,750.8],"nice":false,"zero":false,"reverse":true}},"detail":{"field":"k"},"order":{"field":"o"}}},
{"data":{"name":"blocks"},"mark":{"type":"rule","color":"black","strokeWidth":3.4},"encoding":{"x":{"field":"a","type":"quantitative","axis":null,"scale":{"domain":[-135.8,1432.2],"nice":false,"zero":false}},"x2":{"field":"b"},"y":{"datum":0.8,"type":"quantitative","axis":null,"scale":{"domain":[-408.2,750.8],"nice":false,"zero":false,"reverse":true}}}},
{"data":{"values":[{"label":"Start:52.449","x":-46}]},"mark":{"type":"text","font":"Liberation Sans","fontSize":43.5,"baseline":"alphabetic","align":"left","color":"black"},"encoding":{"x":{"field":"x","type":"quantitative","axis":null,"scale":{"domain":[-135.8,1432.2],"nice":false,"zero":false}},"y":{"datum":-185.7,"type":"quantitative","axis":null,"scale":{"domain":[-408.2,750.8],"nice":false,"zero":false,"reverse":true}},"text":{"field":"label"}}},
{"data":{"values":[{"label":"chr19 Region:73.11 (kb)","x":681}]},"mark":{"type":"text","font":"Liberation Sans","fontSize":43.5,"baseline":"alphabetic","align":"center","color":"black"},"encoding":{"x":{"field":"x","type":"quantitative","axis":null,"scale":{"domain":[-135.8,1432.2],"nice":false,"zero":false}},"y":{"datum":-185.7,"type":"quantitative","axis":null,"scale":{"domain":[-408.2,750.8],"nice":false,"zero":false,"reverse":true}},"text":{"field":"label"}}},
{"data":{"values":[{"label":"End:52.522 (Mb)","x":1423}]},"mark":{"type":"text","font":"Liberation Sans","fontSize":43.5,"baseline":"alphabetic","align":"right","color":"black"},"encoding":{"x":{"field":"x","type":"quantitative","axis":null,"scale":{"domain":[-135.8,1432.2],"nice":false,"zero":false}},"y":{"datum":-185.7,"type":"quantitative","axis":null,"scale":{"domain":[-408.2,750.8],"nice":false,"zero":false,"reverse":true}},"text":{"field":"label"}}},
{"data":{"values":[
{"k0":0,"k1":0.0303,"v":0},{"k0":0.0303,"k1":0.0606,"v":0.03},{"k0":0.0606,"k1":0.0909,"v":0.06},{"k0":0.0909,"k1":0.1212,"v":0.09},{"k0":0.1212,"k1":0.1515,"v":0.12},{"k0":0.1515,"k1":0.1818,"v":0.16},{"k0":0.1818,"k1":0.2121,"v":0.19},{"k0":0.2121,"k1":0.2424,"v":0.22},{"k0":0.2424,"k1":0.2727,"v":0.25},{"k0":0.2727,"k1":0.303,"v":0.28},{"k0":0.303,"k1":0.3333,"v":0.31},{"k0":0.3333,"k1":0.3636,"v":0.34},{"k0":0.3636,"k1":0.3939,"v":0.37},{"k0":0.3939,"k1":0.4242,"v":0.41},{"k0":0.4242,"k1":0.4545,"v":0.44},{"k0":0.4545,"k1":0.4848,"v":0.47},{"k0":0.4848,"k1":0.5152,"v":0.5},{"k0":0.5152,"k1":0.5455,"v":0.53},{"k0":0.5455,"k1":0.5758,"v":0.56},{"k0":0.5758,"k1":0.6061,"v":0.59},{"k0":0.6061,"k1":0.6364,"v":0.62},{"k0":0.6364,"k1":0.6667,"v":0.66},{"k0":0.6667,"k1":0.697,"v":0.69},{"k0":0.697,"k1":0.7273,"v":0.72},{"k0":0.7273,"k1":0.7576,"v":0.75},{"k0":0.7576,"k1":0.7879,"v":0.78},{"k0":0.7879,"k1":0.8182,"v":0.81},{"k0":0.8182,"k1":0.8485,"v":0.84},{"k0":0.8485,"k1":0.8788,"v":0.87},{"k0":0.8788,"k1":0.9091,"v":0.91},{"k0":0.9091,"k1":0.9394,"v":0.94},{"k0":0.9394,"k1":0.9697,"v":0.97},{"k0":0.9697,"k1":1,"v":1}
]},"mark":{"type":"rect","strokeWidth":0},"encoding":{"x":{"field":"k0","type":"quantitative","axis":null,"scale":{"domain":[-2.2201,1.1135],"nice":false,"zero":false}},"x2":{"field":"k1"},"y":{"datum":648,"type":"quantitative","axis":null,"scale":{"domain":[-408.2,750.8],"nice":false,"zero":false,"reverse":true}},"y2":{"datum":683.6},"color":{"field":"v","type":"quantitative","legend":null,"scale":{"domain":[0,0.5,0.625,1],"range":["#FFFFFF","#EFEB47","#F9922B","#FF0000"],"interpolate":"rgb"}}}},
{"data":{"values":[{"k0":0,"k1":1,"y0":648,"y1":683.6}]},"mark":{"type":"rect","fill":null,"stroke":"black","strokeWidth":3.4},"encoding":{"x":{"field":"k0","type":"quantitative","axis":null,"scale":{"domain":[-2.2201,1.1135],"nice":false,"zero":false}},"x2":{"field":"k1"},"y":{"field":"y0","type":"quantitative","axis":null,"scale":{"domain":[-408.2,750.8],"nice":false,"zero":false,"reverse":true}},"y2":{"field":"y1"}}},
{"data":{"values":[{"label":"0.0","k":0.004},{"label":"1.0","k":0.97}]},"mark":{"type":"text","font":"Liberation Sans","fontSize":86,"baseline":"alphabetic","align":"center","color":"black"},"encoding":{"x":{"field":"k","type":"quantitative","axis":null,"scale":{"domain":[-2.2201,1.1135],"nice":false,"zero":false}},"y":{"datum":717.4,"type":"quantitative","axis":null,"scale":{"domain":[-408.2,750.8],"nice":false,"zero":false,"reverse":true}},"text":{"field":"label"}}},
{"data":{"values":[{"label":"D' Color Key","k":0.489}]},"mark":{"type":"text","font":"Liberation Sans","fontSize":86,"baseline":"alphabetic","align":"center","color":"black"},"encoding":{"x":{"field":"k","type":"quantitative","axis":null,"scale":{"domain":[-2.2201,1.1135],"nice":false,"zero":false}},"y":{"datum":614.6,"type":"quantitative","axis":null,"scale":{"domain":[-408.2,750.8],"nice":false,"zero":false,"reverse":true}},"text":{"field":"label"}}}
],
"resolve":{"scale":{"x":"independent","y":"independent"}}}
